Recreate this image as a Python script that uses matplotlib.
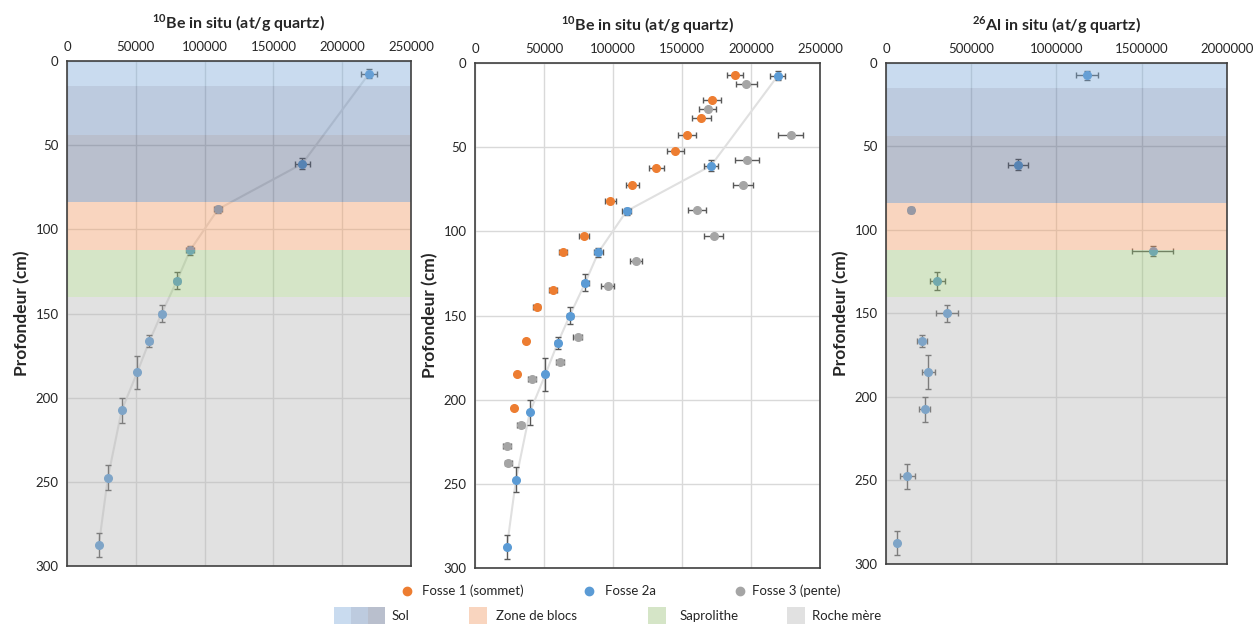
import matplotlib
matplotlib.use('Agg')
import matplotlib.pyplot as plt
from matplotlib.patches import Rectangle
from matplotlib.lines import Line2D
from matplotlib.ticker import FormatStrFormatter

plt.rcParams['font.family'] = ['Lato', 'DejaVu Sans']
plt.rcParams['mathtext.fontset'] = 'custom'
plt.rcParams['mathtext.rm'] = 'Lato'
plt.rcParams['mathtext.bf'] = 'Lato:bold'

# Fosse 2a (both nuclides)
depth2 = [7.5, 61, 88, 112.5, 130.5, 150, 166.5, 185, 207.5, 247.5, 287.5]
depth2_err = [2.5, 3.3, 2, 2.8, 5.2, 5, 3.5, 10, 7.6, 7.6, 7.4]
be2 = [219500, 171000, 109800, 89400, 79900, 68700, 59800, 51000, 39700, 29700, 23100]
be2_err = [5500, 5300, 3000, 3000, 2500, 2000, 1800, 1500, 1200, 1000, 900]
al2 = [1180000, 772000, 145000, 1564000, 301000, 356000, 211000, 248000, 227000, 125000, 66500]
al2_err = [64000, 59000, 15000, 121000, 43000, 64000, 31000, 37000, 33000, 45000, 12000]

# Fosse 1 (sommet)
depth1 = [7, 22, 32.5, 42.5, 52.5, 62.5, 72.5, 82, 102.5, 112.5, 135, 145, 165, 185, 205]
be1 = [188400, 172000, 164000, 153400, 145200, 131400, 114000, 98000, 79000, 64000,
       56500, 44700, 37000, 30700, 28300]
be1_err = [5800, 6500, 7000, 6500, 6300, 5300, 4800, 4100, 3600, 3000, 2900, 2400, 1500, 1200, 1100]

# Fosse 3 (pente)
depth3 = [12.5, 27.5, 42.5, 57.5, 72.5, 87.5, 102.5, 117.5, 132.5, 162.5, 177.5, 187.5, 215, 227.5, 237.5]
be3 = [196600, 168600, 228700, 197100, 194200, 160900, 172900, 116700, 96100, 74400,
       61400, 41500, 33100, 23000, 24200]
be3_err = [7500, 6300, 9000, 8500, 7200, 6400, 7000, 4400, 4800, 3200, 3000, 3000, 2500, 2800, 2800]

# horizons (depth top, depth bottom, colour) drawn translucent over the data
band_top = [0, 15, 44, 84, 112, 140]
band_bot = [15, 44, 84, 112, 140, 300]
band_col = ['#78a7d7', '#5a7daf', '#505f82', '#f2985f', '#96c073', '#b4b4b4']
band_alpha = 0.4

orange = '#ed7d31'
blue = '#5b9bd5'
grey = '#a5a5a5'
ecol = '#595959'
txtcol = '#262626'


def style(ax, xmax, xstep, title, bands):
    ax.set_xlim(0, xmax)
    ax.set_ylim(300, 0)
    ax.set_xticks(range(0, xmax + 1, xstep))
    ax.set_yticks(range(0, 301, 50))
    ax.xaxis.set_major_formatter(FormatStrFormatter('%d'))
    ax.xaxis.tick_top()
    ax.tick_params(axis='both', length=0, labelsize=9.5, colors=txtcol, pad=6)
    ax.grid(True, color='#d9d9d9', lw=1)
    ax.set_axisbelow(True)
    for s in ax.spines.values():
        s.set_color('#404040')
        s.set_linewidth(1.2)
        s.set_zorder(10)
    ax.set_title(title, fontsize=11.5, fontweight='bold', pad=23, color=txtcol)
    ax.set_ylabel('Profondeur (cm)', fontsize=12.5, fontweight='bold', labelpad=4, color=txtcol)
    if bands:
        for t, b, c in zip(band_top, band_bot, band_col):
            ax.axhspan(t, b, color=c, alpha=band_alpha, lw=0, zorder=5)


fig = plt.figure(figsize=(12.53, 6.24), dpi=100)
ax1 = fig.add_axes([0.0535, 0.0929, 0.2745, 0.8093])
ax2 = fig.add_axes([0.3791, 0.0897, 0.2753, 0.8093])
ax3 = fig.add_axes([0.7071, 0.0962, 0.2721, 0.8029])

ebkw = dict(fmt='o', ms=5.5, ecolor=ecol, elinewidth=1, capsize=2.5, capthick=1, zorder=3)

# panel 1 : 10Be, Fosse 2a with horizons
ax1.plot(be2, depth2, color='#e0e0e0', lw=1.5, zorder=2)
ax1.errorbar(be2, depth2, xerr=be2_err, yerr=depth2_err, color=blue, **ebkw)
style(ax1, 250000, 50000, r'$^{\mathbf{10}}$Be in situ (at/g quartz)', True)

# panel 2 : 10Be, three pits
ax2.plot(be2, depth2, color='#e0e0e0', lw=1.5, zorder=2)
ax2.errorbar(be1, depth1, xerr=be1_err, color=orange, **ebkw)
ax2.errorbar(be3, depth3, xerr=be3_err, color=grey, **ebkw)
ax2.errorbar(be2, depth2, xerr=be2_err, yerr=depth2_err, color=blue, **ebkw)
style(ax2, 250000, 50000, r'$^{\mathbf{10}}$Be in situ (at/g quartz)', False)

# panel 3 : 26Al, Fosse 2a with horizons
ax3.errorbar(al2, depth2, xerr=al2_err, yerr=depth2_err, color=blue, **ebkw)
style(ax3, 2000000, 500000, r'$^{\mathbf{26}}$Al in situ (at/g quartz)', True)

# legend, row 1 : pits
W, H = 1253.0, 624.0
y1 = 1 - 591 / H
for mx, tx, c, lab in [(407, 422, orange, 'Fosse 1 (sommet)'),
                       (589, 605, blue, 'Fosse 2a'),
                       (740, 752, grey, 'Fosse 3 (pente)')]:
    fig.add_artist(Line2D([mx / W], [y1], marker='o', ms=6, color=c, lw=0))
    fig.text(tx / W, y1, lab, fontsize=9.5, color=txtcol, va='center')

# legend, row 2 : horizons
y2 = 1 - 616 / H
ph = 18 / H
sol_x = [334, 351, 368]
for x, c in zip(sol_x, band_col[:3]):
    fig.add_artist(Rectangle((x / W, y2 - ph / 2), 17 / W, ph, color=c, alpha=band_alpha, lw=0))
fig.text(392 / W, y2, 'Sol', fontsize=9.5, color=txtcol, va='center')
for px, tx, c, lab in [(469, 496, band_col[3], 'Zone de blocs'),
                       (648, 680, band_col[4], 'Saprolithe'),
                       (787, 812, band_col[5], 'Roche mère')]:
    fig.add_artist(Rectangle((px / W, y2 - ph / 2), 18 / W, ph, color=c, alpha=band_alpha, lw=0))
    fig.text(tx / W, y2, lab, fontsize=9.5, color=txtcol, va='center')

plt.savefig('out.png', dpi=100)
